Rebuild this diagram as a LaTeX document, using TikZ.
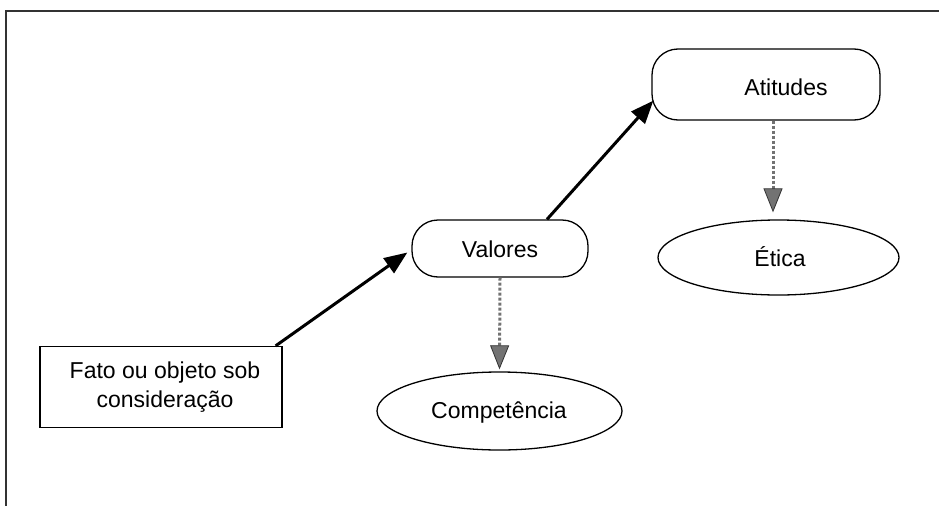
\documentclass[tikz,border=0pt]{standalone}
\usepackage{fontspec}
\setmainfont{Liberation Sans}
\usetikzlibrary{arrows.meta,calc,shapes.geometric}
\begin{document}
\begin{tikzpicture}[x=1pt,y=-1pt,
  lbl/.style={font=\fontsize{23}{29}\selectfont, inner sep=0pt, align=center},
  shapeline/.style={draw, line width=1.3pt},
  pill/.style={shapeline, rounded corners=26pt, inner sep=0pt},
  rect/.style={shapeline, inner sep=0pt},
  oval/.style={shapeline, ellipse, inner sep=0pt},
  mainarrow/.style={line width=3pt, -{Triangle[length=23pt,width=18pt]}},
  greyarrow/.style={line width=3pt, black!55, dotted, line cap=butt,
     -{Triangle[length=24pt,width=19pt, fill=black!55, color=black!80, line width=0.8pt]}}
]
\useasboundingbox (0,0) rectangle (939,506);
\draw[line width=1.2pt, black!80] (939,11) -- (6,11) -- (6,506);

\node[rect, minimum width=242pt, minimum height=81pt] (fato) at (161,387) {};
\node[lbl] (fatoT) at (165,387) {Fato ou objeto sob\\consideração};

\node[pill, minimum width=176pt, minimum height=57pt] (valores) at (500,248.5) {};
\node[lbl] (valoresT) at (500,249) {Valores};

\node[pill, minimum width=228pt, minimum height=71pt] (atitudes) at (766,84.5) {};
\node[lbl] (atitudesT) at (786,87) {Atitudes};

\node[oval, minimum width=241pt, minimum height=75pt] (etica) at (778.5,257.5) {};
\node[lbl] (eticaT) at (780,257) {Ética};

\node[oval, minimum width=245pt, minimum height=78pt] (comp) at (499.5,411) {};
\node[lbl] (compT) at (499,413) {Competência};

\draw[mainarrow] ($(fato.north east)+(-7,0)$) -- ($(valores.west)+(-4,4)$);
\draw[mainarrow] ($(valores.north)+(47,0)$) -- ($(atitudes.south west)+(2,-20)$);
\draw[greyarrow] (valores.south) -- ($(comp.north)+(0,-2)$);
\draw[greyarrow] ($(atitudes.south)+(7,0)$) -- ($(etica.north)+(-5.5,-7)$);
\end{tikzpicture}
\end{document}
